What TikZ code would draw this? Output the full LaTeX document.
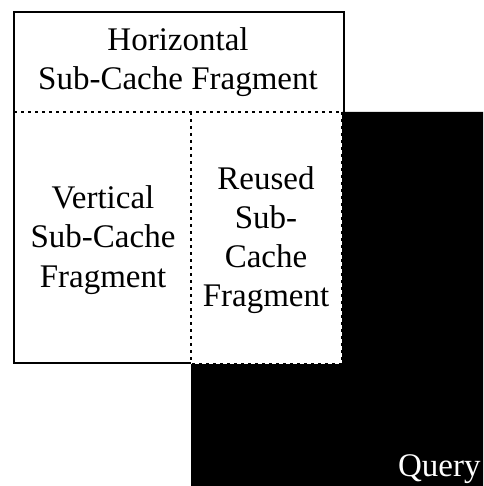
\documentclass[tikz,border=0pt]{standalone}
\usepackage{fontspec}
\setmainfont{Liberation Serif}

\begin{document}
\begin{tikzpicture}[%
      x=0.5pt, y=-0.5pt,
      every node/.style={align=center, inner sep=0pt,
                         font={\fontsize{16.5}{19.6}\selectfont}},
      frag/.style={line width=1.4pt},
      cut/.style={line width=1pt, dash pattern=on 1.5pt off 2pt},
      query/.style={fill=black}
    ]
    \useasboundingbox (0,0) rectangle (483,486);
    % query region
    \fill [query] (191,364) -- (342,364) -- (342,112) -- (483,112)
                  -- (483,486) -- (191,486) -- cycle;
    % cache outline
    \draw [frag] (191,363) -- (14,363) -- (14,12) -- (344,12) -- (344,113);
    \draw [cut] (14,112) -- (342,112);
    \draw [cut] (191,112) -- (191,364);
    \draw [cut] (342,112) -- (342,364) -- (191,364);
    \node (horiz) at (178,62) {Horizontal\\Sub-Cache Fragment};
    \node (vert) at (103,240) {Vertical\\Sub-Cache\\Fragment};
    \node (reused) at (266,240) {Reused\\Sub-\\Cache\\Fragment};
    \node [anchor=base east, text=white] (query) at (481,476) {Query};
\end{tikzpicture}
\end{document}
